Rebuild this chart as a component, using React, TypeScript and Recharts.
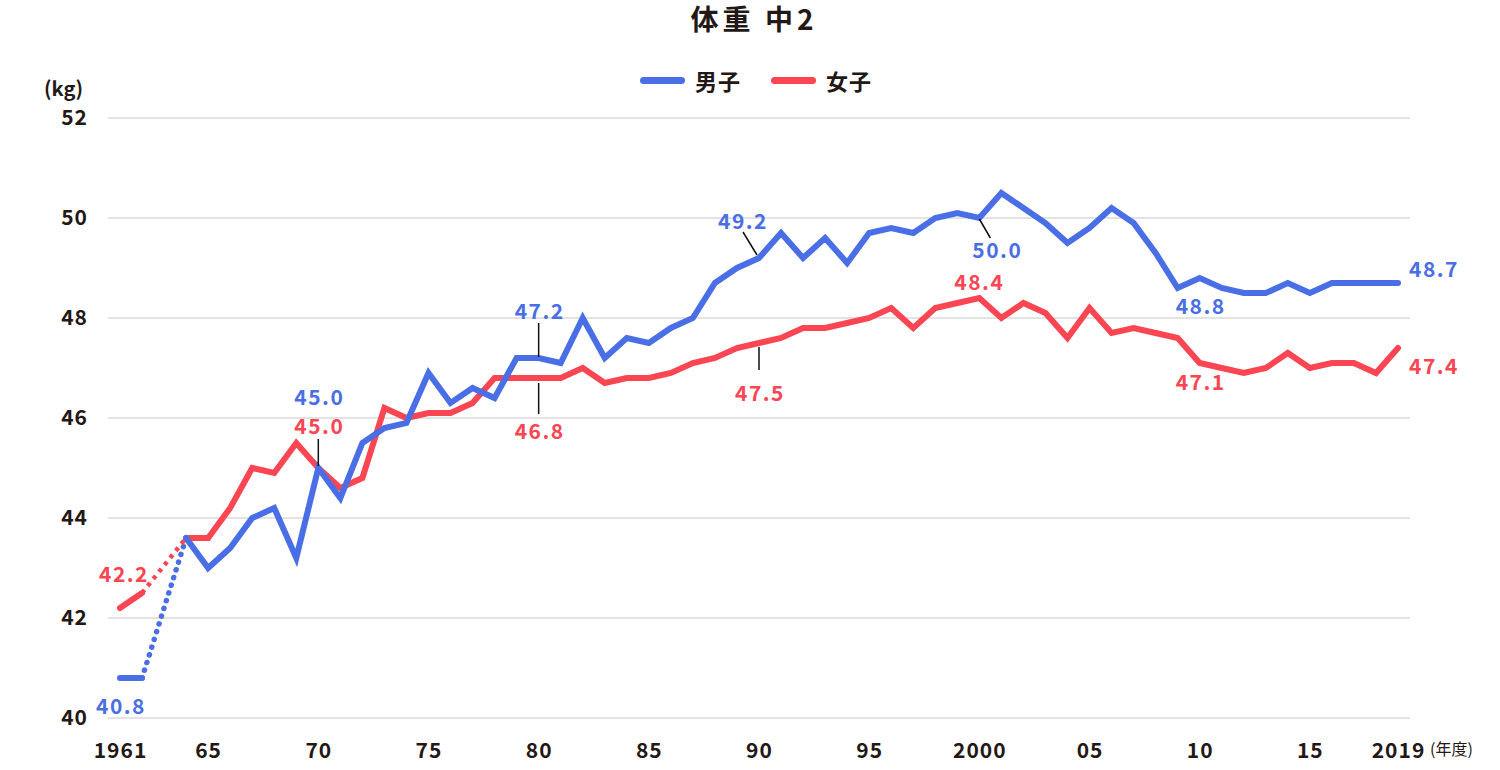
import React from 'react';
import { LineChart, Line, XAxis, YAxis, CartesianGrid } from 'recharts';

const years = [
  1961, 1962, 1963, 1964, 1965, 1966, 1967, 1968, 1969, 1970,
  1971, 1972, 1973, 1974, 1975, 1976, 1977, 1978, 1979, 1980,
  1981, 1982, 1983, 1984, 1985, 1986, 1987, 1988, 1989, 1990,
  1991, 1992, 1993, 1994, 1995, 1996, 1997, 1998, 1999, 2000,
  2001, 2002, 2003, 2004, 2005, 2006, 2007, 2008, 2009, 2010,
  2011, 2012, 2013, 2014, 2015, 2016, 2017, 2018, 2019,
];

// 男子
const boys: (number | null)[] = [
  40.8, 40.8, null, 43.6, 43.0, 43.4, 44.0, 44.2, 43.2, 45.0,
  44.4, 45.5, 45.8, 45.9, 46.9, 46.3, 46.6, 46.4, 47.2, 47.2,
  47.1, 48.0, 47.2, 47.6, 47.5, 47.8, 48.0, 48.7, 49.0, 49.2,
  49.7, 49.2, 49.6, 49.1, 49.7, 49.8, 49.7, 50.0, 50.1, 50.0,
  50.5, 50.2, 49.9, 49.5, 49.8, 50.2, 49.9, 49.3, 48.6, 48.8,
  48.6, 48.5, 48.5, 48.7, 48.5, 48.7, 48.7, 48.7, 48.7,
];

// 女子
const girls: (number | null)[] = [
  42.2, 42.5, null, 43.6, 43.6, 44.2, 45.0, 44.9, 45.5, 45.0,
  44.6, 44.8, 46.2, 46.0, 46.1, 46.1, 46.3, 46.8, 46.8, 46.8,
  46.8, 47.0, 46.7, 46.8, 46.8, 46.9, 47.1, 47.2, 47.4, 47.5,
  47.6, 47.8, 47.8, 47.9, 48.0, 48.2, 47.8, 48.2, 48.3, 48.4,
  48.0, 48.3, 48.1, 47.6, 48.2, 47.7, 47.8, 47.7, 47.6, 47.1,
  47.0, 46.9, 47.0, 47.3, 47.0, 47.1, 47.1, 46.9, 47.4,
];

// years without a survey value, bridged by a dotted line
const gapYears = [1962, 1964];

const xTicks = [1961, 1965, 1970, 1975, 1980, 1985, 1990, 1995, 2000, 2005, 2010, 2015, 2019];
const xTickLabels = ['1961', '65', '70', '75', '80', '85', '90', '95', '2000', '05', '10', '15', '2019'];
const yTicks = [40, 42, 44, 46, 48, 50, 52];

const BLUE = '#4a6ee6';
const RED = '#fa4552';
const INK = '#231815';
const FONT = '"Noto Sans CJK JP", "Noto Sans", sans-serif';

const data = years.map((year, i) => {
  const inGap = year >= gapYears[0] && year <= gapYears[1];
  return {
    year,
    boys: boys[i],
    girls: girls[i],
    boysGap: inGap ? boys[i] : null,
    girlsGap: inGap ? girls[i] : null,
  };
});

type Note = { dx: number; dy: number; anchor?: 'start' | 'middle'; lead?: [number, number, number, number] };

const boysNotes: Record<number, Note> = {
  1961: { dx: 0, dy: 27 },
  1970: { dx: 0, dy: -72 },
  1980: { dx: 0, dy: -48, lead: [0, -35, 0, -1] },
  1990: { dx: -17, dy: -38, lead: [-16, -26, -2, -3] },
  2000: { dx: 17, dy: 31, lead: [0, 1, 11, 20] },
  2010: { dx: 0, dy: 27 },
  2019: { dx: 11, dy: -15, anchor: 'start' },
};

const girlsNotes: Record<number, Note> = {
  1961: { dx: 3, dy: -35 },
  1970: { dx: 0, dy: -43, lead: [0, -29, 0, -2] },
  1980: { dx: 0, dy: 52, lead: [0, 5, 0, 36] },
  1990: { dx: 0, dy: 49, lead: [0, 4, 0, 27] },
  2000: { dx: -1, dy: -17 },
  2010: { dx: 0, dy: 18 },
  2019: { dx: 11, dy: 17, anchor: 'start' },
};

const makeLabel = (notes: Record<number, Note>, color: string) => (props: any) => {
  const { x, y, index, value } = props;
  const row = data[index];
  if (!row || value == null) return null;
  const note = notes[row.year];
  if (!note) return null;
  const anchor = note.anchor || 'middle';
  return (
    <g key={`lbl-${color}-${index}`}>
      {note.lead && (
        <line
          x1={x + note.lead[0]}
          y1={y + note.lead[1]}
          x2={x + note.lead[2]}
          y2={y + note.lead[3]}
          stroke="#111"
          strokeWidth={1.5}
        />
      )}
      <text
        x={x + note.dx + (anchor === 'middle' ? 1 : 0)}
        y={y + note.dy}
        textAnchor={anchor}
        dominantBaseline="central"
        fill={color}
        fontFamily={FONT}
        fontWeight={700}
        fontSize={21}
        letterSpacing={1.5}
      >
        {Number(value).toFixed(1)}
      </text>
    </g>
  );
};

const XTick = ({ x, y, payload }: any) => {
  const i = xTicks.indexOf(payload.value);
  return (
    <g>
      <text
        x={x + 0.5}
        y={y}
        dy="0.71em"
        textAnchor="middle"
        fill={INK}
        fontFamily={FONT}
        fontWeight={700}
        fontSize={21}
        letterSpacing={1}
      >
        {xTickLabels[i]}
      </text>
      {payload.value === 2019 && (
        <text x={x + 32} y={y + 1} dy="0.71em" textAnchor="start" fill={INK} fontFamily={FONT} fontSize={16}>
          (年度)
        </text>
      )}
    </g>
  );
};

const legendItems = [
  { name: '男子', color: BLUE },
  { name: '女子', color: RED },
];

export default function App() {
  return (
    <div style={{ position: 'absolute', left: 0, top: 0, width: 1500, height: 770, background: '#fff' }}>
      <div
        style={{
          position: 'absolute',
          top: 0,
          left: 4,
          width: 1500,
          textAlign: 'center',
          fontFamily: FONT,
          fontWeight: 700,
          fontSize: 28,
          color: INK,
          lineHeight: '36px',
          letterSpacing: 4,
        }}
      >
        体重 中2
      </div>
      <div
        style={{
          position: 'absolute',
          top: 66,
          left: 6,
          width: 1500,
          display: 'flex',
          justifyContent: 'center',
          alignItems: 'center',
          gap: 30,
          fontFamily: FONT,
        }}
      >
        {legendItems.map((it) => (
          <div key={it.name} style={{ display: 'flex', alignItems: 'center', gap: 10 }}>
            <span style={{ width: 45, height: 7, borderRadius: 4, background: it.color, display: 'inline-block' }} />
            <span style={{ fontSize: 22, fontWeight: 700, color: INK, lineHeight: '28px', letterSpacing: 1 }}>
              {it.name}
            </span>
          </div>
        ))}
      </div>
      <div
        style={{
          position: 'absolute',
          left: 44,
          top: 75,
          fontFamily: FONT,
          fontWeight: 700,
          fontSize: 20,
          color: INK,
          lineHeight: '26px',
        }}
      >
        (kg)
      </div>
      <LineChart width={1500} height={770} data={data} margin={{ top: 118, right: 90, bottom: 0, left: 8 }}>
        <CartesianGrid vertical={false} stroke="#dadada" strokeWidth={1.5} />
        <XAxis
          dataKey="year"
          type="number"
          domain={[1961, 2019]}
          ticks={xTicks}
          interval={0}
          padding={{ left: 12, right: 12 }}
          axisLine={false}
          tickLine={false}
          tickMargin={19}
          height={52}
          tick={<XTick />}
        />
        <YAxis
          domain={[40, 52]}
          ticks={yTicks}
          interval={0}
          width={100}
          axisLine={false}
          tickLine={false}
          tickMargin={14}
          tick={{ fill: INK, fontFamily: FONT, fontWeight: 700, fontSize: 21, letterSpacing: 1 }}
        />
        <Line
          dataKey="boysGap"
          stroke={BLUE}
          strokeWidth={5.5}
          strokeDasharray="0.1 8"
          strokeLinecap="round"
          connectNulls
          dot={false}
          activeDot={false}
          legendType="none"
          isAnimationActive={false}
        />
        <Line
          dataKey="girlsGap"
          stroke={RED}
          strokeWidth={4.5}
          strokeDasharray="4 5"
          connectNulls
          dot={false}
          activeDot={false}
          legendType="none"
          isAnimationActive={false}
        />
        <Line
          dataKey="girls"
          name="女子"
          stroke={RED}
          strokeWidth={6}
          strokeLinecap="round"
          dot={false}
          activeDot={false}
          label={makeLabel(girlsNotes, RED)}
          isAnimationActive={false}
        />
        <Line
          dataKey="boys"
          name="男子"
          stroke={BLUE}
          strokeWidth={6}
          strokeLinecap="round"
          dot={false}
          activeDot={false}
          label={makeLabel(boysNotes, BLUE)}
          isAnimationActive={false}
        />
      </LineChart>
    </div>
  );
}
